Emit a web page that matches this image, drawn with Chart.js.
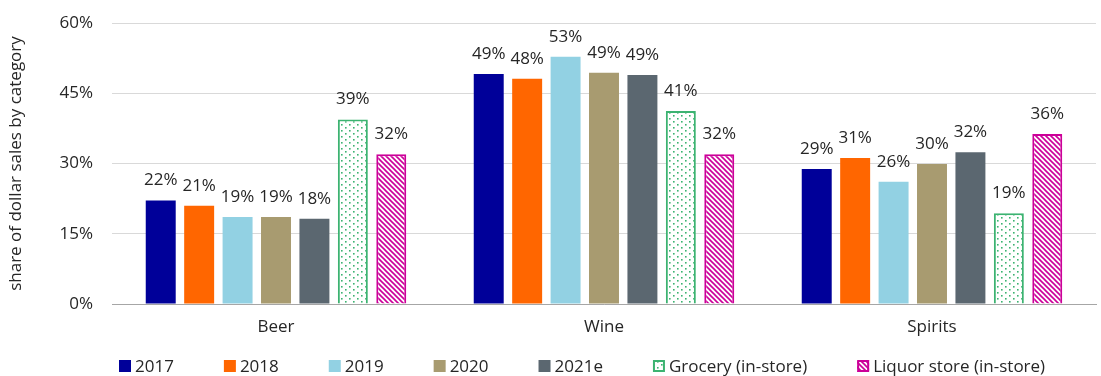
<!DOCTYPE html>
<html>
<head>
<meta charset="utf-8">
<script src="https://cdn.jsdelivr.net/npm/chart.js@4.4.1/dist/chart.umd.min.js"></script>
<style>
  html, body { margin: 0; padding: 0; background: #fff; }
  #wrap { width: 1101px; height: 376px; position: relative; }
</style>
</head>
<body>
<div id="wrap"><canvas id="c"></canvas></div>
<script>
// Categories and series
const categories = ['Beer', 'Wine', 'Spirits'];
const seriesNames = ['2017', '2018', '2019', '2020', '2021e', 'Grocery (in-store)', 'Liquor store (in-store)'];

// Share of dollar sales by category (%)
const v2017 = [22.1, 49.1, 28.8];
const v2018 = [21.0, 48.1, 31.2];
const v2019 = [18.6, 52.8, 26.1];
const v2020 = [18.6, 49.4, 29.9];
const v2021e = [18.2, 48.9, 32.4];
const grocery = [39.4, 41.2, 19.4];
const liquor = [32.0, 32.0, 36.3];

// Y axis ticks
const yTicks = [0, 15, 30, 45, 60];

const FONT = "'Open Sans', 'Noto Sans', sans-serif";
const FS = 17;
const TEXT = '#262626';
const GREEN = '#3cb371';
const MAGENTA = '#cc0099';

// Dotted fill for grocery bars
function dotPattern() {
  const c = document.createElement('canvas');
  c.width = 8; c.height = 6;
  const x = c.getContext('2d');
  x.fillStyle = '#fff'; x.fillRect(0, 0, 8, 6);
  x.fillStyle = GREEN;
  x.fillRect(1, 1, 1.6, 1.6);
  x.fillRect(5, 4, 1.6, 1.6);
  return x.createPattern(c, 'repeat');
}
// Diagonal hatch fill for liquor store bars
function hatchPattern() {
  const s = 5;
  const c = document.createElement('canvas');
  c.width = s; c.height = s;
  const x = c.getContext('2d');
  x.fillStyle = '#fff'; x.fillRect(0, 0, s, s);
  x.strokeStyle = MAGENTA; x.lineWidth = 1.6;
  x.beginPath();
  x.moveTo(-1, -1); x.lineTo(s + 1, s + 1);
  x.moveTo(-1, s - 1); x.lineTo(1, s + 1);
  x.moveTo(s - 1, -1); x.lineTo(s + 1, 1);
  x.stroke();
  return x.createPattern(c, 'repeat');
}

const dots = dotPattern();
const hatch = hatchPattern();

const seriesValues = [v2017, v2018, v2019, v2020, v2021e, grocery, liquor];
const fills = ['#000099', '#ff6600', '#92d1e3', '#a89b70', '#5b6770', dots, hatch];
const borders = [null, null, null, null, null, GREEN, MAGENTA];

const datasets = seriesValues.map((vals, i) => ({
  label: seriesNames[i],
  data: vals,
  backgroundColor: fills[i],
  borderColor: borders[i] || fills[i],
  borderWidth: borders[i] ? 2 : 0,
  categoryPercentage: 0.82,
  barPercentage: 0.78
}));

// Percentage labels above each bar
const valueLabels = {
  id: 'valueLabels',
  afterDatasetsDraw(chart) {
    const ctx = chart.ctx;
    ctx.save();
    ctx.font = FS + 'px ' + FONT;
    ctx.fillStyle = TEXT;
    ctx.textAlign = 'center';
    ctx.textBaseline = 'alphabetic';
    chart.data.datasets.forEach((ds, di) => {
      const meta = chart.getDatasetMeta(di);
      meta.data.forEach((el, j) => {
        ctx.fillText(Math.round(ds.data[j]) + '%', el.x, el.y - 15);
      });
    });
    ctx.restore();
  }
};

// Legend row along the bottom
const bottomLegend = {
  id: 'bottomLegend',
  afterDraw(chart) {
    const ctx = chart.ctx;
    ctx.save();
    ctx.font = FS + 'px ' + FONT;
    ctx.textBaseline = 'middle';
    ctx.textAlign = 'left';
    const box = 12, gapText = 4, gapItem = 50, cy = 366;
    let x = 119;
    chart.data.datasets.forEach((ds) => {
      ctx.fillStyle = ds.backgroundColor;
      ctx.fillRect(x, cy - box / 2, box, box);
      if (ds.borderWidth) {
        ctx.strokeStyle = ds.borderColor;
        ctx.lineWidth = 2;
        ctx.strokeRect(x + 1, cy - box / 2 + 1, box - 2, box - 2);
      }
      ctx.fillStyle = TEXT;
      ctx.fillText(ds.label, x + box + gapText, cy + 1);
      x += box + gapText + ctx.measureText(ds.label).width + gapItem;
    });
    ctx.restore();
  }
};

new Chart(document.getElementById('c'), {
  type: 'bar',
  data: { labels: categories, datasets },
  options: {
    responsive: true,
    maintainAspectRatio: false,
    animation: false,
    devicePixelRatio: 1,
    layout: { padding: { top: 23, right: 5, left: 0, bottom: 0 } },
    plugins: {
      legend: { display: false },
      tooltip: { enabled: false }
    },
    scales: {
      x: {
        grid: { display: false, drawTicks: false },
        border: { display: true, color: '#a6a6a6', width: 1 },
        ticks: { color: TEXT, font: { family: FONT, size: FS }, padding: 13 },
        afterFit(scale) { scale.height = 72; }
      },
      y: {
        min: 0, max: 60,
        afterBuildTicks(scale) { scale.ticks = yTicks.map(v => ({ value: v })); },
        grid: { color: '#d9d9d9', drawTicks: false },
        border: { display: false },
        ticks: {
          color: TEXT, font: { family: FONT, size: FS }, padding: 19,
          callback: (v) => v + '%'
        },
        title: {
          display: true,
          text: 'share of dollar sales by category',
          color: TEXT,
          font: { family: FONT, size: FS },
          padding: { top: 6, bottom: 0 }
        },
        afterFit(scale) {
          scale.width = 112;
          scale.paddingTop = 0;
          scale.paddingBottom = 0;
        }
      }
    }
  },
  plugins: [valueLabels, bottomLegend]
});
</script>
</body>
</html>
